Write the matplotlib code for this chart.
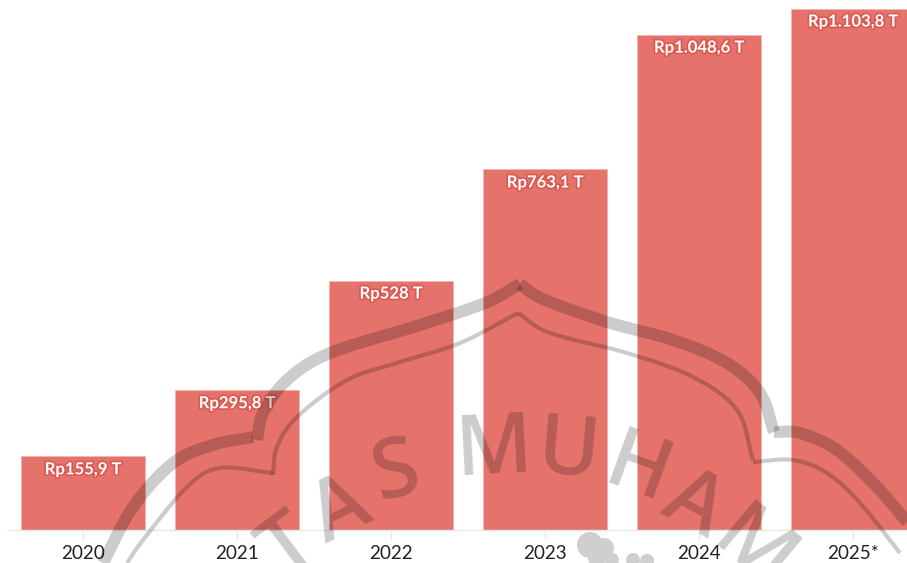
import numpy as np
import matplotlib
matplotlib.use("Agg")
import matplotlib.pyplot as plt
import matplotlib.patheffects as pe
from matplotlib.patches import Circle
from matplotlib.transforms import Affine2D

years = ["2020", "2021", "2022", "2023", "2024", "2025*"]
values = [155.9, 295.8, 528, 763.1, 1048.6, 1103.8]
labels = ["Rp155,9 T", "Rp295,8 T", "Rp528 T", "Rp763,1 T", "Rp1.048,6 T", "Rp1.103,8 T"]

W, H = 907, 563
plt.rcParams["font.family"] = ["Lato", "DejaVu Sans"]
fig = plt.figure(figsize=(W / 100, H / 100), dpi=100, facecolor="white")
ax = fig.add_axes([0, (H - 530) / H, 1, 530 / H])
ax.set_xlim((0 - 83) / 154, (W - 83) / 154)
ax.set_ylim(0, 1121.8)
ax.patch.set_visible(False)
for s in ["top", "left", "right"]:
    ax.spines[s].set_visible(False)
ax.spines["bottom"].set_color("#e6e6e6")
ax.spines["bottom"].set_linewidth(1.0)
ax.spines["bottom"].set_bounds((7 - 83) / 154, (W - 83) / 154)
ax.set_yticks([])
x = np.arange(len(years))
bars = ax.bar(x, values, width=0.8, color="#e5736b", edgecolor="#f2b5b0", linewidth=0.6, zorder=2)
ax.set_xticks(x, years)
ax.tick_params(axis="x", length=7, width=0.8, color="#e6e6e6", labelcolor="#222222", labelsize=13.6, pad=3.5)

for xi, v, lab in zip(x, values, labels):
    ax.annotate(lab, (xi, v), xytext=(0, -13), textcoords="offset pixels", ha="center", va="center",
                color="white", fontsize=12, fontweight="bold", zorder=3,
                path_effects=[pe.withStroke(linewidth=2.4, foreground="#d9524a", alpha=0.8)], annotation_clip=False)

# faint university watermark laid over the chart (pixel coordinates)
px = Affine2D().scale(1, -1).translate(0, H)
WM = dict(color="black", alpha=0.2, transform=px, clip_on=False, zorder=5)

def smooth(points, n=14):
    p = np.array(points, float)
    p = np.vstack([2 * p[0] - p[1], p, 2 * p[-1] - p[-2]])
    out = []
    for i in range(1, len(p) - 2):
        for t in np.linspace(0, 1, n, endpoint=False):
            a, b, c, d = p[i - 1], p[i], p[i + 1], p[i + 2]
            out.append(0.5 * (2 * b + (c - a) * t + (2 * a - 5 * b + 4 * c - d) * t ** 2 + (3 * b - a - 3 * c + d) * t ** 3))
    out.append(p[-2])
    return np.array(out)

thick = [
    [(103, 563), (133, 507), (173, 463), (213, 445), (253, 437)],
    [(257, 440), (263, 413), (287, 380), (330, 353), (420, 325), (485, 303), (520, 284)],
    [(520, 284), (543, 299), (607, 322), (673, 340), (727, 363), (760, 393), (774, 432)],
    [(774, 432), (800, 433), (837, 450), (877, 487), (907, 522)],
]
thin = [
    [(127, 563), (143, 540), (187, 487), (220, 468), (273, 473)],
    [(273, 475), (277, 447), (297, 417), (347, 380), (400, 362), (460, 343), (518, 313)],
    [(518, 313), (550, 333), (627, 353), (693, 377), (737, 410), (753, 460)],
    [(753, 462), (793, 460), (827, 473), (860, 503), (900, 553)],
]
for seg in thick:
    s = smooth(seg)
    fig.add_artist(plt.Line2D(s[:, 0], s[:, 1], lw=8.6, solid_capstyle="butt", **WM))
for seg in thin:
    s = smooth(seg)
    fig.add_artist(plt.Line2D(s[:, 0], s[:, 1], lw=3.0, solid_capstyle="butt", **WM))

letters = [("T", 290, 548, 37), ("A", 341, 513, 26), ("S", 397, 473, 14), ("M", 493, 451, 3),
           ("U", 569, 453, -5), ("H", 637, 472, -20), ("A", 693, 507, -28), ("M", 752, 552, -40)]
for ch, lx, ly, rot in letters:
    fig.text(lx, ly, ch, fontsize=60, family="Open Sans", fontweight="semibold", ha="center", va="center",
             rotation=rot, rotation_mode="anchor", color="black", alpha=0.2, transform=px, zorder=5)

# emblem fragment at the bottom edge, behind the tick labels
for bx, by, br in [(590, 545, 13), (604, 548, 10), (597, 558, 9), (612, 560, 7), (633, 560, 7), (647, 561, 7)]:
    fig.add_artist(Circle((bx, by), br, facecolor="#cfcfcf", edgecolor="none", transform=px, zorder=-1))

fig.savefig("out.png", dpi=100)
